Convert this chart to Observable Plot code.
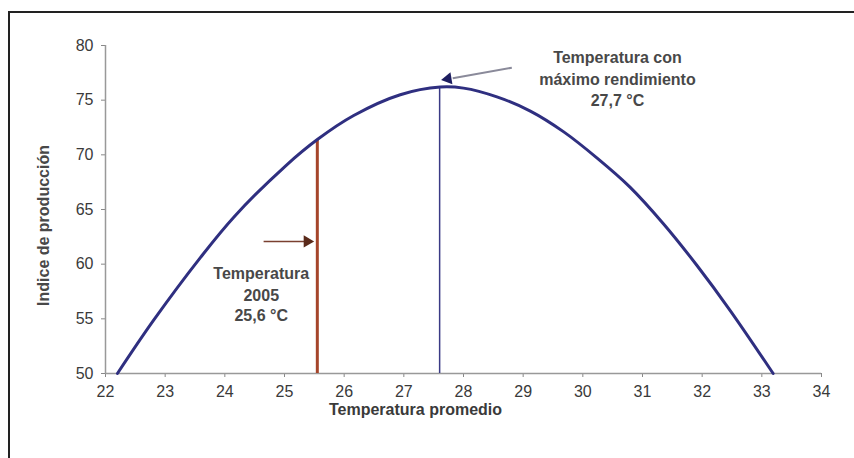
<!DOCTYPE html>
<html>
<head>
<meta charset="utf-8">
<script src="https://cdn.jsdelivr.net/npm/d3@7"></script>
<script src="https://cdn.jsdelivr.net/npm/@observablehq/plot@0.6"></script>
<style>
  html, body { margin: 0; padding: 0; background: #fff; }
  #wrap { position: relative; width: 854px; height: 458px; overflow: hidden; }
  #frame { position: absolute; left: 8px; top: 11px; width: 900px; height: 500px;
           border-left: 2px solid #222; border-top: 2px solid #222; }
  #chart { position: absolute; left: 0; top: 0; }
</style>
</head>
<body>
<div id="wrap"><div id="frame"></div><div id="chart"></div></div>
<script>
// Curve
const temperatures = [22.20, 22.81, 23.59, 24.15, 25.02, 25.55, 26.16, 26.94, 27.61, 28.00, 28.56, 29.12, 29.68, 30.24, 30.79, 31.35, 31.91, 32.47, 33.19];
const productionIndex = [50.0, 54.9, 60.6, 64.3, 69.0, 71.4, 73.6, 75.5, 76.2, 76.1, 75.3, 74.0, 72.1, 69.7, 67.05, 63.7, 59.9, 55.76, 50.0];

const xTicks = [22, 23, 24, 25, 26, 27, 28, 29, 30, 31, 32, 33, 34];
const yTicks = [50, 55, 60, 65, 70, 75, 80];

const temp2005 = 25.55;          // red marker line
const index2005 = 71.4;
const tempMax = 27.6;            // blue marker line
const indexMax = 76.2;

const labelMax = ["Temperatura con", "máximo rendimiento", "27,7 °C"];
const label2005 = ["Temperatura", "2005", "25,6 °C"];
const xTitle = "Temperatura promedio";
const yTitle = "Indice de producción";

const curve = temperatures.map((t, i) => ({t, v: productionIndex[i]}));

const font = "'Liberation Sans', Arial, sans-serif";

const chart = Plot.plot({
  width: 854,
  height: 458,
  marginLeft: 105,
  marginRight: 33,
  marginTop: 45,
  marginBottom: 85,
  style: {fontFamily: font, background: "transparent", overflow: "visible"},
  x: {domain: [22, 34]},
  y: {domain: [50, 80]},
  marks: [
    Plot.axisX({ticks: xTicks, tickSize: 4, tickPadding: 8, stroke: "#888", fill: "#3a3a3a", fontSize: 16, label: null, tickFormat: d => String(d)}),
    Plot.axisY({ticks: yTicks, tickSize: 4, tickPadding: 8, stroke: "#888", fill: "#3a3a3a", fontSize: 16, label: null, tickFormat: d => String(d)}),
    Plot.ruleY([50], {stroke: "#999", strokeWidth: 1.5}),
    Plot.ruleX([22], {stroke: "#999", strokeWidth: 1.5}),
    Plot.ruleX([temp2005], {y1: 50, y2: index2005, stroke: "#a5452a", strokeWidth: 3}),
    Plot.ruleX([tempMax], {y1: 50, y2: indexMax, stroke: "#3a3a85", strokeWidth: 1.5}),
    Plot.line(curve, {x: "t", y: "v", stroke: "#2f2f80", strokeWidth: 3, curve: "catmull-rom"}),
    Plot.link([{x1: 28.81, y1: 77.97, x2: 27.82, y2: 77.0}], {x1: "x1", y1: "y1", x2: "x2", y2: "y2", stroke: "#8a8a9a", strokeWidth: 2}),
    Plot.dot([{x: 27.74, y: 76.95}], {x: "x", y: "y", symbol: "triangle", r: 4.5, rotate: 260.6, fill: "#1e1e60", stroke: "none"}),
    Plot.link([{x1: 24.65, y1: 62.08, x2: 25.33, y2: 62.08}], {x1: "x1", y1: "y1", x2: "x2", y2: "y2", stroke: "#7a4030", strokeWidth: 1.5}),
    Plot.dot([{x: 25.38, y: 62.08}], {x: "x", y: "y", symbol: "triangle", r: 4.5, rotate: 90, fill: "#5a2a1a", stroke: "none"}),
    Plot.text(labelMax, {x: 30.58, y: [78.91, 76.9, 74.89], text: d => d, fontSize: 16, fontWeight: "bold", fill: "#484848"}),
    Plot.text(label2005, {x: 24.61, y: [59.15, 57.14, 55.31], text: d => d, fontSize: 16, fontWeight: "bold", fill: "#484848"}),
    Plot.text([xTitle], {frameAnchor: "bottom", dx: -48, dy: 41, fontSize: 16, fontWeight: "bold", fill: "#3a3a3a", style: "letter-spacing:0.5px"}),
    Plot.text([yTitle], {frameAnchor: "left", textAnchor: "middle", dx: -62, dy: 16, rotate: -90, fontSize: 16, fontWeight: "bold", fill: "#484848"})
  ]
});
document.getElementById("chart").appendChild(chart);
</script>
</body>
</html>
